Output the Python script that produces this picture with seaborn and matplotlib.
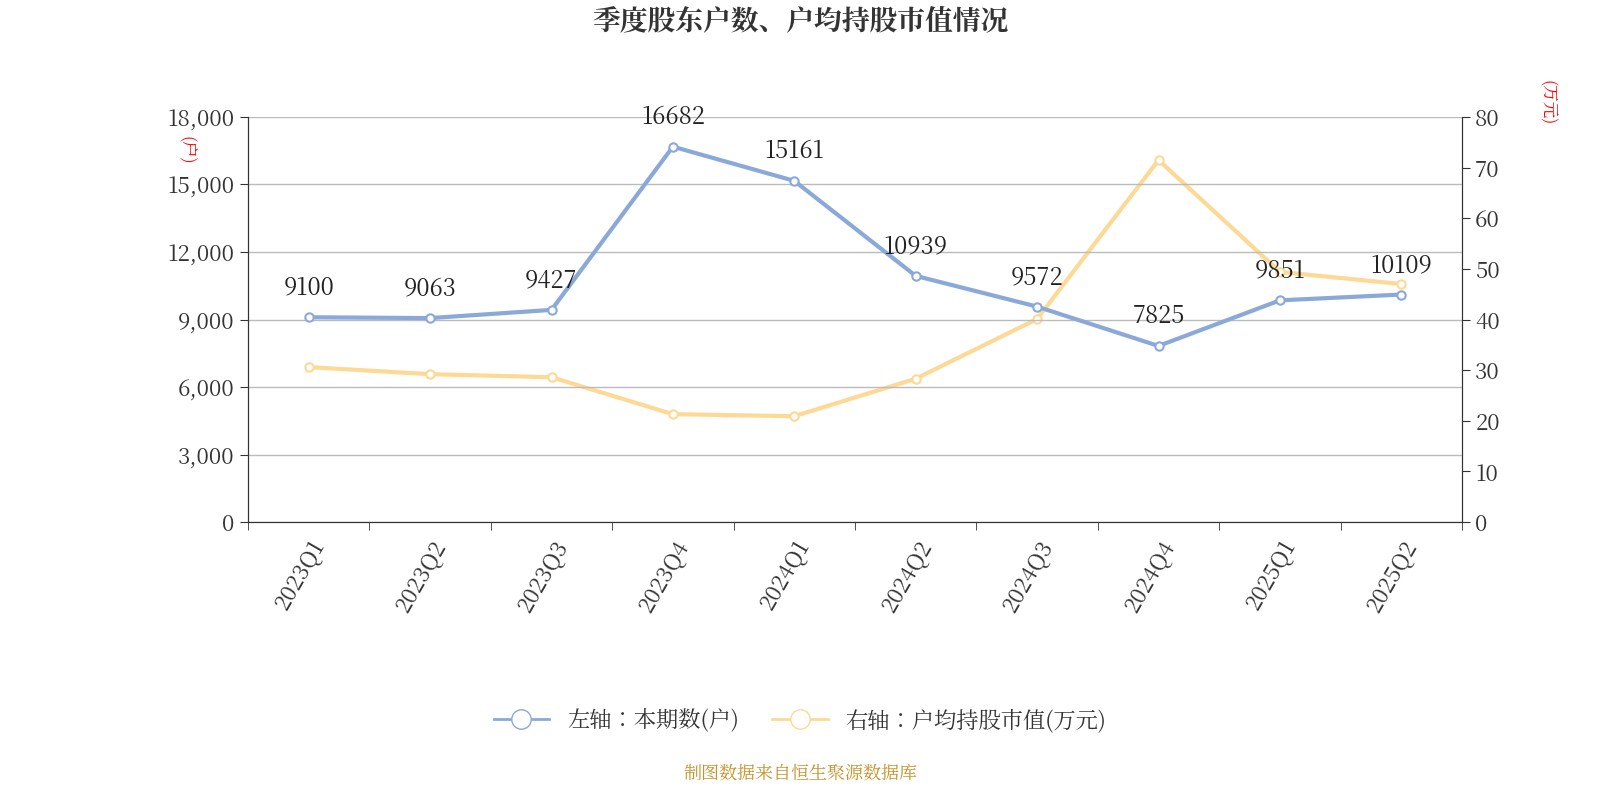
import matplotlib
matplotlib.use("Agg")
import matplotlib.pyplot as plt
import seaborn as sns
import pandas as pd
from matplotlib import font_manager as fm

cjk = None
for f in fm.fontManager.ttflist:
    if "CJK" in f.name and ("SC" in f.name or cjk is None):
        cjk = f.name
        if "SC" in f.name:
            break
if cjk is None:
    import glob
    for p in glob.glob("/usr/share/fonts/**/*CJK*", recursive=True):
        fm.fontManager.addfont(p)
        cjk = fm.FontProperties(fname=p).get_name()
        break
plt.rcParams["font.family"] = [cjk or "Noto Sans CJK SC", "DejaVu Sans"]
plt.rcParams["axes.unicode_minus"] = False

quarters = ["2023Q1","2023Q2","2023Q3","2023Q4","2024Q1","2024Q2","2024Q3","2024Q4","2025Q1","2025Q2"]
holders = [9100, 9063, 9427, 16682, 15161, 10939, 9572, 7825, 9851, 10109]
avg_value = [30.6, 29.2, 28.6, 21.3, 20.9, 28.3, 40.1, 71.5, 49.4, 47.0]

df = pd.DataFrame({"q": quarters, "h": holders, "v": avg_value, "x": range(len(quarters))})
blue, yellow = "#8aa9d9", "#fdd995"

fig = plt.figure(figsize=(16, 8), dpi=100)
ax = fig.add_axes([248/1600, 1-522/800, (1462-248)/1600, (522-117)/800])
ax2 = ax.twinx()

sns.lineplot(data=df, x="x", y="v", ax=ax2, color=yellow, lw=3, marker="o",
             markersize=6, markerfacecolor="white", markeredgecolor=yellow, markeredgewidth=1.5)
sns.lineplot(data=df, x="x", y="h", ax=ax, color=blue, lw=3, marker="o",
             markersize=6, markerfacecolor="white", markeredgecolor=blue, markeredgewidth=1.5)
ax.set_zorder(ax2.get_zorder() + 1)
ax.patch.set_visible(False)

for x, h in zip(df["x"], holders):
    ax.annotate(str(h), (x, h), xytext=(0, 12), textcoords="offset points",
                ha="center", va="bottom", fontsize=17, color="#222222")

ax.set_xlim(-0.5, len(quarters) - 0.5)
ax.set_ylim(0, 18000)
ax.set_yticks(range(0, 18001, 3000))
ax.set_yticklabels([f"{v:,}" for v in range(0, 18001, 3000)])
ax2.set_ylim(0, 80)
ax2.set_yticks(range(0, 81, 10))
ax.set_xticks(df["x"])
ax.set_xticklabels(quarters, rotation=60, ha="right", rotation_mode="anchor")
ax.set_xticks([i - 0.5 for i in range(len(quarters) + 1)], minor=True)
ax.tick_params(axis="x", which="major", length=0, labelsize=16, colors="#333333", pad=10)
ax.tick_params(axis="x", which="minor", length=6, color="#333333")
ax.tick_params(axis="y", labelsize=16, colors="#333333", length=6)
ax2.tick_params(axis="y", labelsize=16, colors="#333333", length=6)
ax.grid(axis="y", color="#bbbbbb", lw=1)
ax.set_xlabel(""); ax.set_ylabel(""); ax2.set_xlabel(""); ax2.set_ylabel("")
for a in (ax, ax2):
    a.spines["top"].set_visible(False)
    for s in ["left", "right", "bottom"]:
        a.spines[s].set_color("#333333")

fig.text(0.117, 1-150/800, "(户)", color="red", fontsize=12, rotation=-90, ha="center", va="center")
fig.text(0.967, 1-103/800, "(万元)", color="red", fontsize=12, rotation=-90, ha="center", va="center")
fig.text(0.5, 1-22/800, "季度股东户数、户均持股市值情况", ha="center", va="center",
         fontsize=20, fontweight="bold", color="#333333")

from matplotlib.lines import Line2D
handles = [Line2D([], [], color=blue, lw=2, marker="o", markersize=14, markerfacecolor="white", markeredgecolor=blue),
           Line2D([], [], color=yellow, lw=2, marker="o", markersize=14, markerfacecolor="white", markeredgecolor=yellow)]
fig.legend(handles, ["左轴：本期数(户)", "右轴：户均持股市值(万元)"], loc="center",
           bbox_to_anchor=(0.5, 1-721/800), ncol=2, frameon=False, fontsize=16,
           handlelength=2.5, columnspacing=1.5, labelcolor="#333333")
fig.text(0.5, 1-773/800, "制图数据来自恒生聚源数据库", ha="center", va="center", fontsize=13, color="#c8922b")

fig.savefig("out.png", dpi=100)
